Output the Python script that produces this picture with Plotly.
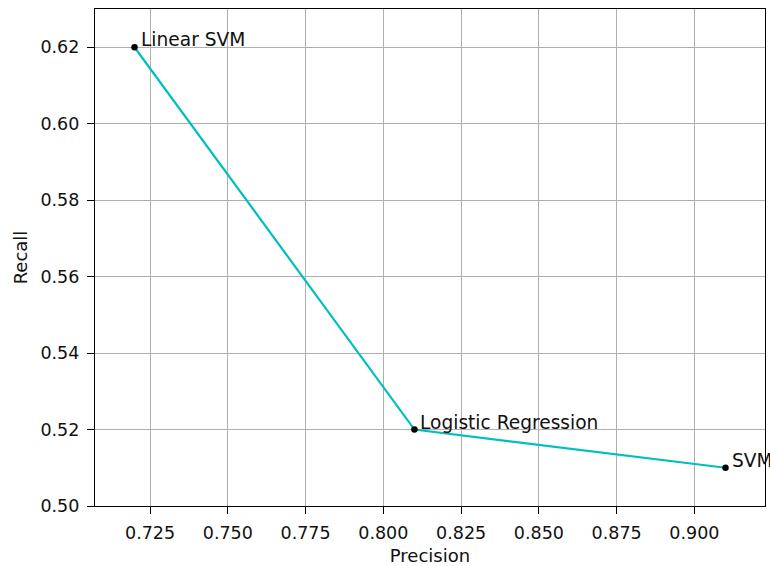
import plotly.graph_objects as go

models = ["Linear SVM", "Logistic Regression", "SVM"]
precision = [0.72, 0.81, 0.91]
recall = [0.62, 0.52, 0.51]

x_ticks = [0.725, 0.750, 0.775, 0.800, 0.825, 0.850, 0.875, 0.900]
y_ticks = [0.50, 0.52, 0.54, 0.56, 0.58, 0.60, 0.62]

FONT = "DejaVu Sans"
TICK_FS = 17.5
ANN_FS = 18.6
TITLE_FS = 18
TXT = "#111111"

fig = go.Figure()
fig.add_trace(go.Scatter(
    x=precision, y=recall, mode="lines",
    line=dict(color="#00bfbf", width=2.2), showlegend=False, hoverinfo="skip"))
fig.add_trace(go.Scatter(
    x=precision, y=recall, mode="markers",
    marker=dict(color="black", size=6.5), showlegend=False))

for m, px, ry in zip(models, precision, recall):
    fig.add_annotation(x=px, y=ry, text=m, showarrow=False,
                       xanchor="left", yanchor="bottom", xshift=4, yshift=-5,
                       font=dict(family=FONT, size=ANN_FS, color=TXT))

axis_common = dict(
    showline=True, linecolor="black", linewidth=1.2, mirror=True,
    showgrid=True, gridcolor="#b0b0b0", gridwidth=1,
    ticks="outside", ticklen=7, tickcolor="black", tickwidth=1.2,
    zeroline=False, tickfont=dict(family=FONT, size=TICK_FS, color=TXT),
    ticklabelstandoff=4,
)

fig.update_xaxes(range=[0.7073, 0.9227], tickvals=x_ticks,
                 ticktext=[f"{v:.3f}" for v in x_ticks],
                 title=dict(text="Precision", font=dict(family=FONT, size=TITLE_FS, color=TXT)),
                 automargin=False, **axis_common)
fig.update_yaxes(range=[0.50, 0.63], tickvals=y_ticks,
                 ticktext=[f"{v:.2f}" for v in y_ticks],
                 title=dict(text="Recall", font=dict(family=FONT, size=TITLE_FS, color=TXT), standoff=8),
                 automargin=True, **axis_common)

fig.update_layout(
    width=770, height=566,
    margin=dict(l=95, r=5, t=9, b=60),
    plot_bgcolor="white", paper_bgcolor="white",
    font=dict(family=FONT, size=TITLE_FS),
)

fig.write_html("out.html")
